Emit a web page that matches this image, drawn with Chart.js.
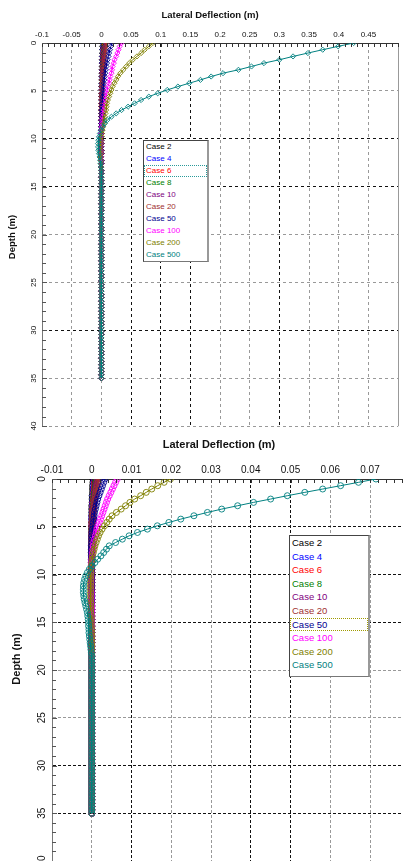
<!DOCTYPE html>
<html>
<head>
<meta charset="utf-8">
<script src="https://cdn.jsdelivr.net/npm/chart.js@4.4.1/dist/chart.umd.min.js"></script>
<style>
  html, body { margin: 0; padding: 0; background: #fff; overflow: hidden; width: 403px; height: 861px; }
  canvas { position: absolute; left: 0; }
  #topChart { top: 0; }
  #botChart { top: 430px; }
  .legend { position: absolute; background: #fff; box-sizing: border-box;
            border: 1px solid #444; border-right: 2px solid #999; border-bottom: 1px solid #777;
            font-family: "Liberation Sans", Arial, sans-serif; }
  .legend div { white-space: nowrap; padding-left: 2px; box-sizing: border-box; }
</style>
</head>
<body>
<canvas id="topChart" width="403" height="431"></canvas>
<canvas id="botChart" width="420" height="460"></canvas>
<div id="topLegend" class="legend"></div>
<div id="botLegend" class="legend"></div>
<script>
const xTitle = 'Lateral Deflection (m)';
const yTitle = 'Depth (m)';
const depthTicks = [0, 5, 10, 15, 20, 25, 30, 35, 40];
const caseNames = ['Case 2', 'Case 4', 'Case 6', 'Case 8', 'Case 10', 'Case 20', 'Case 50', 'Case 100', 'Case 200', 'Case 500'];
const caseColors = ['#000000', '#0000ff', '#ff0000', '#008000', '#800080', '#a03030', '#000090', '#ff00ff', '#808000', '#008080'];

// depth of each node along the pile (m)
const depth = [
  0,0.35,0.7,1.05,1.4,1.75,2.1,2.45,2.8,3.15,
  3.5,3.85,4.2,4.55,4.9,5.25,5.6,5.95,6.3,6.65,
  7,7.35,7.7,8.05,8.4,8.75,9.1,9.45,9.8,10.15,
  10.5,10.85,11.2,11.55,11.9,12.25,12.6,12.95,13.3,13.65,
  14,14.35,14.7,15.05,15.4,15.75,16.1,16.45,16.8,17.15,
  17.5,17.85,18.2,18.55,18.9,19.25,19.6,19.95,20.3,20.65,
  21,21.35,21.7,22.05,22.4,22.75,23.1,23.45,23.8,24.15,
  24.5,24.85,25.2,25.55,25.9,26.25,26.6,26.95,27.3,27.65,
  28,28.35,28.7,29.05,29.4,29.75,30.1,30.45,30.8,31.15,
  31.5,31.85,32.2,32.55,32.9,33.25,33.6,33.95,34.3,34.65,
  35
];

// ---- upper chart: lateral deflection (m) per case ----
const topCase2 = [
  0.0014,0.0012,0.0011,0.001,0.0009,0.0007,0.0006,0.0005,0.0004,0.0003,
  0.0002,0.0001,0,0,0,0,0,0,0,0,
  0,0,0,0,0,0,0,0,0,0, 0,0,0,0,0,0,0,0,0,0, 0,0,0,0,0,0,0,0,0,0,
  0,0,0,0,0,0,0,0,0,0, 0,0,0,0,0,0,0,0,0,0, 0,0,0,0,0,0,0,0,0,0,
  0,0,0,0,0,0,0,0,0,0, 0,0,0,0,0,0,0,0,0,0,
  0
];
const topCase4 = [
  0.0028,0.0025,0.0022,0.002,0.0017,0.0015,0.0013,0.0011,0.0009,0.0008,
  0.0006,0.0005,0.0004,0.0003,0.0002,0.0001,0,0,0,0,
  0,0,0,0,0,0,0,0,0,0, 0,0,0,0,0,0,0,0,0,0, 0,0,0,0,0,0,0,0,0,0,
  0,0,0,0,0,0,0,0,0,0, 0,0,0,0,0,0,0,0,0,0, 0,0,0,0,0,0,0,0,0,0,
  0,0,0,0,0,0,0,0,0,0, 0,0,0,0,0,0,0,0,0,0,
  0
];
const topCase6 = [
  0.004,0.0036,0.0032,0.0028,0.0025,0.0022,0.0019,0.0016,0.0014,0.0012,
  0.001,0.0008,0.0006,0.0005,0.0004,0.0003,0.0002,0.0001,0,0,
  0,0,0,0,0,0,0,0,0,0, 0,0,0,0,0,0,0,0,0,0, 0,0,0,0,0,0,0,0,0,0,
  0,0,0,0,0,0,0,0,0,0, 0,0,0,0,0,0,0,0,0,0, 0,0,0,0,0,0,0,0,0,0,
  0,0,0,0,0,0,0,0,0,0, 0,0,0,0,0,0,0,0,0,0,
  0
];
const topCase8 = [
  0.0055,0.0049,0.0044,0.0039,0.0034,0.003,0.0026,0.0022,0.0019,0.0016,
  0.0013,0.0011,0.0009,0.0007,0.0005,0.0004,0.0003,0.0002,0.0001,0,
  0,0,0,0,0,0,0,0,0,0, 0,0,0,0,0,0,0,0,0,0, 0,0,0,0,0,0,0,0,0,0,
  0,0,0,0,0,0,0,0,0,0, 0,0,0,0,0,0,0,0,0,0, 0,0,0,0,0,0,0,0,0,0,
  0,0,0,0,0,0,0,0,0,0, 0,0,0,0,0,0,0,0,0,0,
  0
];
const topCase10 = [
  0.007,0.0062,0.0055,0.0049,0.0043,0.0038,0.0033,0.0028,0.0024,0.002,
  0.0017,0.0014,0.0011,0.0009,0.0007,0.0005,0.0004,0.0003,0.0002,0.0001,
  0,0,0,0,0,0,0,0,0,0, 0,0,0,0,0,0,0,0,0,0, 0,0,0,0,0,0,0,0,0,0,
  0,0,0,0,0,0,0,0,0,0, 0,0,0,0,0,0,0,0,0,0, 0,0,0,0,0,0,0,0,0,0,
  0,0,0,0,0,0,0,0,0,0, 0,0,0,0,0,0,0,0,0,0,
  0
];
const topCase20 = [
  0.009,0.008,0.0072,0.0064,0.0057,0.005,0.0044,0.0038,0.0033,0.0028,
  0.0024,0.002,0.0016,0.0013,0.001,0.0008,0.0006,0.0004,0.0002,0.0001,
  0,-0.0001,-0.0002,-0.0002,-0.0002,-0.0002,-0.0002,-0.0002,-0.0001,-0.0001,
  0,0,0,0,0,0,0,0,0,0, 0,0,0,0,0,0,0,0,0,0,
  0,0,0,0,0,0,0,0,0,0, 0,0,0,0,0,0,0,0,0,0, 0,0,0,0,0,0,0,0,0,0,
  0,0,0,0,0,0,0,0,0,0, 0,0,0,0,0,0,0,0,0,0,
  0
];
const topCase50 = [
  0.018,0.016,0.0145,0.013,0.012,0.0105,0.0095,0.0085,0.0075,0.0065,
  0.0057,0.005,0.0043,0.0037,0.0031,0.0026,0.0021,0.0017,0.0013,0.001,
  0.0007,0.0004,0.0002,0,-0.0002,-0.0003,-0.0004,-0.0005,-0.0005,-0.0005,
  -0.0005,-0.0004,-0.0003,-0.0002,-0.0001,0,0,0,0,0,
  0,0,0,0,0,0,0,0,0,0,
  0,0,0,0,0,0,0,0,0,0, 0,0,0,0,0,0,0,0,0,0, 0,0,0,0,0,0,0,0,0,0,
  0,0,0,0,0,0,0,0,0,0, 0,0,0,0,0,0,0,0,0,0,
  0
];
const topCase100 = [
  0.034,0.031,0.029,0.027,0.025,0.022,0.021,0.019,0.018,0.017,
  0.015,0.014,0.013,0.011,0.01,0.009,0.008,0.007,0.006,0.005,
  0.004,0.003,0.002,0.0015,0.001,0.0005,0,-0.0005,-0.001,-0.001,
  -0.001,-0.001,-0.001,-0.0008,-0.0005,-0.0003,-0.0001,0,0,0,
  0,0,0,0,0,0,0,0,0,0,
  0,0,0,0,0,0,0,0,0,0, 0,0,0,0,0,0,0,0,0,0, 0,0,0,0,0,0,0,0,0,0,
  0,0,0,0,0,0,0,0,0,0, 0,0,0,0,0,0,0,0,0,0,
  0
];
const topCase200 = [
  0.087,0.08,0.073,0.067,0.06,0.053,0.047,0.042,0.037,0.032,
  0.028,0.025,0.022,0.019,0.017,0.015,0.013,0.011,0.0095,0.0088,
  0.008,0.007,0.006,0.005,0.004,0.003,0.002,0.001,0,-0.001,
  -0.0015,-0.0015,-0.0015,-0.0012,-0.001,-0.0008,-0.0005,-0.0003,-0.0001,0,
  0,0,0,0,0,0,0,0,0,0,
  0,0,0,0,0,0,0,0,0,0, 0,0,0,0,0,0,0,0,0,0, 0,0,0,0,0,0,0,0,0,0,
  0,0,0,0,0,0,0,0,0,0, 0,0,0,0,0,0,0,0,0,0,
  0
];
const topCase500 = [
  0.425,0.399,0.373,0.348,0.323,0.3,0.274,0.253,0.231,0.205,
  0.185,0.167,0.148,0.129,0.111,0.095,0.08,0.067,0.056,0.045,
  0.034,0.025,0.017,0.01,0.006,0.002,-0.0005,-0.0025,-0.004,-0.005,
  -0.0056,-0.0055,-0.005,-0.004,-0.003,-0.002,-0.0012,-0.0006,-0.0003,-0.0001,
  0,0,0,0,0,0,0,0,0,0,
  0,0,0,0,0,0,0,0,0,0, 0,0,0,0,0,0,0,0,0,0, 0,0,0,0,0,0,0,0,0,0,
  0,0,0,0,0,0,0,0,0,0, 0,0,0,0,0,0,0,0,0,0,
  0
];

// ---- lower chart ----
const botCase2 = [
  0.0003,0.0003,0.0002,0.0002,0.0002,0.0001,0.0001,0.0001,0,0,
  0,0,0,0,0,0,0,0,0,0, 0,0,0,0,0,0,0,0,0,0, 0,0,0,0,0,0,0,0,0,0,
  0,0,0,0,0,0,0,0,0,0, 0,0,0,0,0,0,0,0,0,0, 0,0,0,0,0,0,0,0,0,0,
  0,0,0,0,0,0,0,0,0,0, 0,0,0,0,0,0,0,0,0,0, 0,0,0,0,0,0,0,0,0,0,
  0
];
const botCase4 = [
  0.0006,0.0005,0.0005,0.0004,0.0004,0.0003,0.0003,0.0002,0.0002,0.0001,
  0.0001,0,0,0,0,0,0,0,0,0,
  0,0,0,0,0,0,0,0,0,0, 0,0,0,0,0,0,0,0,0,0, 0,0,0,0,0,0,0,0,0,0,
  0,0,0,0,0,0,0,0,0,0, 0,0,0,0,0,0,0,0,0,0, 0,0,0,0,0,0,0,0,0,0,
  0,0,0,0,0,0,0,0,0,0, 0,0,0,0,0,0,0,0,0,0,
  0
];
const botCase6 = [
  0.0008,0.0007,0.0007,0.0006,0.0005,0.0005,0.0004,0.0003,0.0003,0.0002,
  0.0002,0.0001,0.0001,0,0,0,0,0,0,0,
  0,0,0,0,0,0,0,0,0,0, 0,0,0,0,0,0,0,0,0,0, 0,0,0,0,0,0,0,0,0,0,
  0,0,0,0,0,0,0,0,0,0, 0,0,0,0,0,0,0,0,0,0, 0,0,0,0,0,0,0,0,0,0,
  0,0,0,0,0,0,0,0,0,0, 0,0,0,0,0,0,0,0,0,0,
  0
];
const botCase8 = [
  0.0011,0.001,0.0009,0.0008,0.0007,0.0006,0.0005,0.0005,0.0004,0.0003,
  0.0003,0.0002,0.0002,0.0001,0.0001,0,0,0,0,0,
  0,0,0,0,0,0,0,0,0,0, 0,0,0,0,0,0,0,0,0,0, 0,0,0,0,0,0,0,0,0,0,
  0,0,0,0,0,0,0,0,0,0, 0,0,0,0,0,0,0,0,0,0, 0,0,0,0,0,0,0,0,0,0,
  0,0,0,0,0,0,0,0,0,0, 0,0,0,0,0,0,0,0,0,0,
  0
];
const botCase10 = [
  0.0014,0.0013,0.0011,0.001,0.0009,0.0008,0.0007,0.0006,0.0005,0.0004,
  0.0003,0.0003,0.0002,0.0002,0.0001,0.0001,0,0,0,0,
  0,0,0,0,0,0,0,0,0,0, 0,0,0,0,0,0,0,0,0,0, 0,0,0,0,0,0,0,0,0,0,
  0,0,0,0,0,0,0,0,0,0, 0,0,0,0,0,0,0,0,0,0, 0,0,0,0,0,0,0,0,0,0,
  0,0,0,0,0,0,0,0,0,0, 0,0,0,0,0,0,0,0,0,0,
  0
];
const botCase20 = [
  0.0018,0.0016,0.0014,0.0012,0.0011,0.0009,0.0008,0.0007,0.0006,0.0005,
  0.0004,0.0003,0.0003,0.0002,0.0002,0.0001,0.0001,0,0,0,
  -0.0001,-0.0001,-0.0001,-0.0001,-0.0001,-0.0001,-0.0001,-0.0001,-0.0001,-0.0001,
  -0.0001,-0.0001,-0.0001,-0.0001,-0.0001,-0.0001,0,0,0,0,
  0,0,0,0,0,0,0,0,0,0,
  0,0,0,0,0,0,0,0,0,0, 0,0,0,0,0,0,0,0,0,0, 0,0,0,0,0,0,0,0,0,0,
  0,0,0,0,0,0,0,0,0,0, 0,0,0,0,0,0,0,0,0,0,
  0
];
const botCase50 = [
  0.0033,0.003,0.0027,0.0024,0.0021,0.0018,0.0015,0.0013,0.0011,0.0009,
  0.0007,0.0006,0.0005,0.0004,0.0003,0.0002,0.0001,0,0,0,
  -0.0001,-0.0001,-0.0001,-0.0001,-0.0001,-0.0001,-0.0001,-0.0001,-0.0001,-0.0001,
  -0.0001,-0.0001,-0.0001,-0.0001,-0.0001,0,0,0,0,0,
  0,0,0,0,0,0,0,0,0,0,
  0,0,0,0,0,0,0,0,0,0, 0,0,0,0,0,0,0,0,0,0, 0,0,0,0,0,0,0,0,0,0,
  0,0,0,0,0,0,0,0,0,0, 0,0,0,0,0,0,0,0,0,0,
  0
];
const botCase100 = [
  0.0064,0.006,0.0056,0.0052,0.0048,0.0044,0.004,0.0037,0.0034,0.0031,
  0.0028,0.0025,0.0022,0.0019,0.0016,0.0013,0.0011,0.0009,0.0007,0.0005,
  0.0004,0.0003,0.0002,0.0001,0,-0.0001,-0.0001,-0.0002,-0.0002,-0.0002,
  -0.0002,-0.0002,-0.0002,-0.0002,-0.0001,-0.0001,-0.0001,-0.0001,0,0,
  0,0,0,0,0,0,0,0,0,0,
  0,0,0,0,0,0,0,0,0,0, 0,0,0,0,0,0,0,0,0,0, 0,0,0,0,0,0,0,0,0,0,
  0,0,0,0,0,0,0,0,0,0, 0,0,0,0,0,0,0,0,0,0,
  0
];
const botCase200 = [
  0.0198,0.0182,0.0166,0.0151,0.0137,0.0123,0.0108,0.0096,0.0085,0.0074,
  0.0062,0.0051,0.0044,0.0038,0.0032,0.0026,0.0021,0.0017,0.0014,0.0011,
  0.0008,0.0006,0.0004,0.0002,0.0001,0,-0.0001,-0.0002,-0.0002,-0.0003,
  -0.0003,-0.0003,-0.0003,-0.0003,-0.0003,-0.0003,-0.0003,-0.0002,-0.0002,-0.0002,
  -0.0002,-0.0001,-0.0001,-0.0001,-0.0001,0,0,0,0,0,
  0,0,0,0,0,0,0,0,0,0, 0,0,0,0,0,0,0,0,0,0, 0,0,0,0,0,0,0,0,0,0,
  0,0,0,0,0,0,0,0,0,0, 0,0,0,0,0,0,0,0,0,0,
  0
];
const botCase500 = [
  0.0715,0.0671,0.0626,0.0581,0.0536,0.0492,0.045,0.0407,0.0367,0.0327,
  0.0291,0.0257,0.0224,0.0194,0.0165,0.014,0.0115,0.0094,0.0077,0.006,
  0.0044,0.0037,0.003,0.0023,0.0015,0.0008,0.0001,-0.0006,-0.0011,-0.0015,
  -0.0018,-0.002,-0.0021,-0.0021,-0.0021,-0.002,-0.0019,-0.0017,-0.0015,-0.0013,
  -0.0011,-0.001,-0.0009,-0.0008,-0.0008,-0.0007,-0.0007,-0.0006,-0.0005,-0.0004,
  -0.0003,-0.0002,-0.0001,0,0,0,0,0,0,0,
  0,0,0,0,0,0,0,0,0,0, 0,0,0,0,0,0,0,0,0,0, 0,0,0,0,0,0,0,0,0,0,
  0,0,0,0,0,0,0,0,0,0,
  0
];

const topSeries = [topCase2, topCase4, topCase6, topCase8, topCase10, topCase20, topCase50, topCase100, topCase200, topCase500];
const botSeries = [botCase2, botCase4, botCase6, botCase8, botCase10, botCase20, botCase50, botCase100, botCase200, botCase500];

Chart.defaults.font.family = '"Liberation Sans", Arial, sans-serif';

// minor ticks, rotated depth labels, axis titles, right frame
const decor = {
  id: 'decor',
  afterDraw(chart, args, o) {
    const { ctx, chartArea: a, scales: { x, y } } = chart;
    ctx.save();
    ctx.lineWidth = 1;
    ctx.strokeStyle = '#999';
    ctx.beginPath();
    ctx.moveTo(Math.round(a.right) + 0.5, a.top);
    ctx.lineTo(Math.round(a.right) + 0.5, a.bottom);
    ctx.stroke();

    ctx.strokeStyle = '#333';
    ctx.beginPath();
    for (let v = x.min; v <= x.max + 1e-9; v += o.xMinor) {
      const px = Math.round(x.getPixelForValue(v)) + 0.5;
      ctx.moveTo(px, a.top);
      ctx.lineTo(px, a.top + 4);
    }
    ctx.stroke();
    ctx.strokeStyle = '#555';
    ctx.beginPath();
    for (let v = y.min; v <= y.max + 1e-9; v += 1) {
      const py = Math.round(y.getPixelForValue(v)) + 0.5;
      ctx.moveTo(a.left, py);
      ctx.lineTo(a.left + (v % 5 === 0 ? 5 : 4), py);
    }
    ctx.stroke();

    ctx.fillStyle = '#111';
    ctx.textAlign = 'center';
    ctx.textBaseline = 'middle';
    ctx.font = o.tickFont;
    depthTicks.forEach(t => {
      ctx.save();
      ctx.translate(o.yLabelX, y.getPixelForValue(t));
      ctx.rotate(-Math.PI / 2);
      ctx.fillText(String(t), 0, 0);
      ctx.restore();
    });

    ctx.font = o.titleFont;
    ctx.fillText(xTitle, o.xTitleX, o.xTitleY);
    ctx.save();
    ctx.translate(o.yTitleX, o.yTitleY);
    ctx.rotate(-Math.PI / 2);
    ctx.fillText(yTitle, 0, 0);
    ctx.restore();
    ctx.restore();
  }
};

function gridColor(dark) {
  return c => (c.tick && dark.some(v => Math.abs(v - c.tick.value) < 1e-9)) ? '#111' : '#999';
}

function makeChart(id, series, cfg) {
  const datasets = series.map((vals, k) => ({
    label: caseNames[k],
    data: depth.map((d, i) => ({ x: vals[i], y: d })),
    showLine: true,
    borderColor: caseColors[k],
    borderWidth: 1,
    pointStyle: cfg.marker,
    pointRadius: cfg.radius,
    pointBorderWidth: 0.9,
    pointBorderColor: caseColors[k],
    pointBackgroundColor: 'rgba(255,255,255,0)',
    order: series.length - k
  }));
  return new Chart(document.getElementById(id), {
    type: 'scatter',
    data: { datasets },
    options: {
      responsive: false,
      animation: false,
      devicePixelRatio: 1,
      events: [],
      layout: { padding: cfg.padding },
      plugins: { legend: { display: false }, tooltip: { enabled: false }, decor: cfg.decor },
      scales: {
        x: {
          type: 'linear', position: 'top', min: cfg.xMin, max: cfg.xMax,
          afterFit: s => { s.height = cfg.xHeight; },
          ticks: {
            stepSize: cfg.xStep, padding: 3, color: '#111', font: { size: cfg.tickSize },
            maxRotation: 0, autoSkip: false,
            callback: (v, i, t) => i === t.length - 1 ? '' : String(+v.toFixed(4))
          },
          grid: { drawTicks: false, color: gridColor(cfg.darkX), lineWidth: 1 },
          border: { display: true, color: '#333', width: 1, dash: cfg.dash }
        },
        y: {
          type: 'linear', reverse: true, min: 0, max: 40,
          afterFit: s => { s.width = cfg.yWidth; },
          ticks: { stepSize: 5, display: false },
          grid: { drawTicks: false, color: gridColor(cfg.darkY), lineWidth: 1 },
          border: { display: true, color: '#777', width: 1, dash: cfg.dash }
        }
      }
    },
    plugins: [decor]
  });
}

makeChart('topChart', topSeries, {
  xMin: -0.1, xMax: 0.5, xStep: 0.05, xHeight: 43, yWidth: 42,
  padding: { left: 0, top: 0, right: 4.5, bottom: 3 },
  tickSize: 8, marker: 'rectRot', radius: 2.6, dash: [3, 3],
  darkX: [0.05, 0.1, 0.15, 0.3], darkY: [10, 15, 30],
  decor: { xMinor: 0.01, yLabelX: 34, tickFont: '8px "Liberation Sans", Arial, sans-serif',
           titleFont: 'bold 9.5px "Liberation Sans", Arial, sans-serif',
           xTitleX: 210, xTitleY: 15, yTitleX: 12, yTitleY: 237 }
});

makeChart('botChart', botSeries, {
  xMin: -0.01, xMax: 0.08, xStep: 0.01, xHeight: 49, yWidth: 52,
  padding: { left: 0, top: 0, right: 10.25, bottom: 29 },
  tickSize: 10, marker: 'circle', radius: 3, dash: [3, 2],
  darkX: [0.01, 0.04, 0.05], darkY: [5, 10, 15, 30, 35],
  decor: { xMinor: 0.002, yLabelX: 42, tickFont: '10px "Liberation Sans", Arial, sans-serif',
           titleFont: 'bold 11px "Liberation Sans", Arial, sans-serif',
           xTitleX: 219, xTitleY: 15, yTitleX: 17, yTitleY: 229 }
});

function makeLegend(id, box) {
  const el = document.getElementById(id);
  Object.assign(el.style, {
    left: box.left + 'px', top: box.top + 'px', width: box.w + 'px', height: box.h + 'px',
    fontSize: box.font + 'px'
  });
  caseNames.forEach((name, k) => {
    const row = document.createElement('div');
    row.textContent = name;
    row.style.color = caseColors[k];
    row.style.height = box.row + 'px';
    row.style.lineHeight = box.row + 'px';
    if (k === box.focus) {
      row.style.outline = '1px dotted ' + box.focusColor;
      row.style.outlineOffset = '-1px';
    }
    el.appendChild(row);
  });
}

makeLegend('topLegend', { left: 143, top: 140, w: 66, h: 122, row: 12, font: 8, focus: 2, focusColor: '#2a9a9a' });
makeLegend('botLegend', { left: 289, top: 535, w: 81, h: 142, row: 13.6, font: 9.5, focus: 6, focusColor: '#a09a00' });
</script>
</body>
</html>
